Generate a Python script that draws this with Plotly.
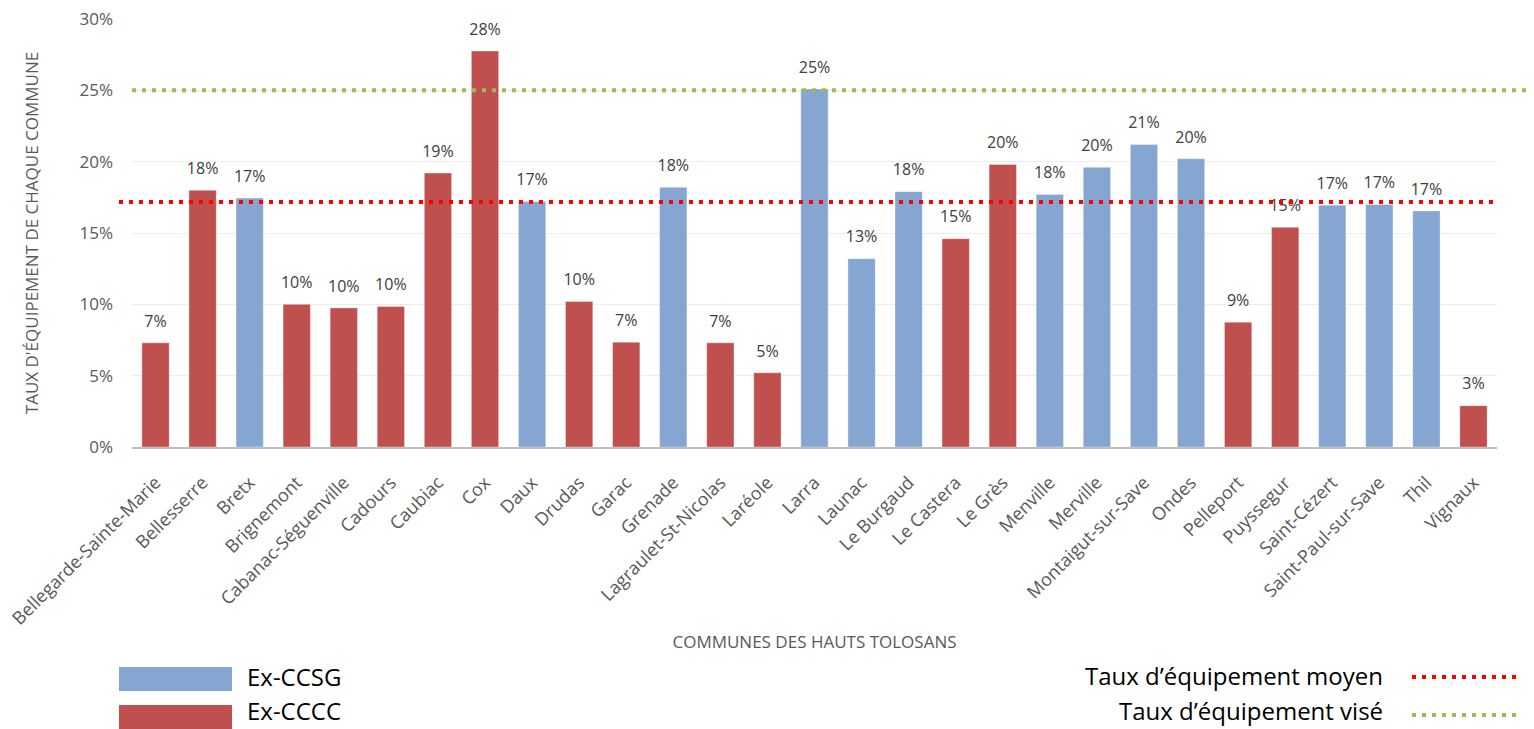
import plotly.graph_objects as go

# --------------------------------------------------------------------------
# Données
# --------------------------------------------------------------------------
communes = [
    "Bellegarde-Sainte-Marie", "Bellesserre", "Bretx", "Brignemont",
    "Cabanac-Séguenville", "Cadours", "Caubiac", "Cox", "Daux", "Drudas",
    "Garac", "Grenade", "Lagraulet-St-Nicolas", "Laréole", "Larra", "Launac",
    "Le Burgaud", "Le Castera", "Le Grès", "Menville", "Merville",
    "Montaigut-sur-Save", "Ondes", "Pelleport", "Puyssegur", "Saint-Cézert",
    "Saint-Paul-sur-Save", "Thil", "Vignaux",
]
taux = [
    0.073, 0.180, 0.1745, 0.100, 0.0975, 0.0985, 0.192, 0.2775, 0.172, 0.102,
    0.0735, 0.182, 0.073, 0.052, 0.251, 0.132, 0.179, 0.146, 0.198, 0.177,
    0.196, 0.212, 0.202, 0.0875, 0.154, 0.1695, 0.170, 0.1655, 0.029,
]
groupe = [
    "Ex-CCCC", "Ex-CCCC", "Ex-CCSG", "Ex-CCCC", "Ex-CCCC", "Ex-CCCC", "Ex-CCCC",
    "Ex-CCCC", "Ex-CCSG", "Ex-CCCC", "Ex-CCCC", "Ex-CCSG", "Ex-CCCC", "Ex-CCCC",
    "Ex-CCSG", "Ex-CCSG", "Ex-CCSG", "Ex-CCCC", "Ex-CCCC", "Ex-CCSG", "Ex-CCSG",
    "Ex-CCSG", "Ex-CCSG", "Ex-CCCC", "Ex-CCCC", "Ex-CCSG", "Ex-CCSG", "Ex-CCSG",
    "Ex-CCCC",
]
taux_moyen = 0.1717
taux_vise = 0.25

couleurs = {"Ex-CCSG": "#84A6D1", "Ex-CCCC": "#C0504D"}
ROUGE_LIGNE = "#FF0000"
VERT_LIGNE = "#9BBB59"

# géométrie de la page (pixels)
W, H = 1534, 729
L, R, T, B = 132, 37, 19, 282
PW, PH = W - L - R, H - T - B


def px_x(px):
    return (px - L) / PW


def px_y(py):
    return (H - B - py) / PH


fig = go.Figure()

fig.add_trace(go.Bar(
    x=communes, y=taux,
    marker=dict(color=[couleurs[g] for g in groupe],
                line=dict(color="rgba(255,255,255,0.35)", width=1)),
    width=0.58,
    hoverinfo="skip",
    showlegend=False,
))

# étiquettes au-dessus des barres
fig.add_trace(go.Scatter(
    x=communes, y=taux,
    mode="markers+text",
    marker=dict(size=18, color="rgba(0,0,0,0)"),
    text=[f"{v:.0%}" for v in taux],
    textposition="top center",
    textfont=dict(family="Open Sans", size=16, color="#404040"),
    hoverinfo="skip",
    showlegend=False,
))

# lignes de référence
fig.add_shape(type="line", xref="paper", yref="y",
              x0=px_x(119), x1=px_x(1497), y0=taux_moyen, y1=taux_moyen,
              line=dict(color=ROUGE_LIGNE, width=4, dash="4px,6px"))
fig.add_shape(type="line", xref="paper", yref="y",
              x0=px_x(132), x1=px_x(1526), y0=taux_vise, y1=taux_vise,
              line=dict(color=VERT_LIGNE, width=4, dash="4px,6px"))

# légende personnalisée
legende_font = dict(family="Open Sans", size=24, color="#000000")
for nom, y_top, y_txt in [("Ex-CCSG", 667, 676), ("Ex-CCCC", 705, 711)]:
    fig.add_shape(type="rect", xref="paper", yref="paper",
                  x0=px_x(119), x1=px_x(232), y0=px_y(y_top + 24), y1=px_y(y_top),
                  fillcolor=couleurs[nom], line=dict(width=0))
    fig.add_annotation(xref="paper", yref="paper", x=px_x(245), y=px_y(y_txt),
                       text=nom, showarrow=False, xanchor="left", yanchor="middle",
                       font=legende_font)

for texte, coul, yc, yl in [("Taux d’équipement moyen", ROUGE_LIGNE, 675, 677),
                            ("Taux d’équipement visé", VERT_LIGNE, 711, 715)]:
    fig.add_annotation(xref="paper", yref="paper", x=px_x(1385), y=px_y(yc),
                       text=texte, showarrow=False, xanchor="right", yanchor="middle",
                       font=legende_font)
    fig.add_shape(type="line", xref="paper", yref="paper",
                  x0=px_x(1412), x1=px_x(1522), y0=px_y(yl), y1=px_y(yl),
                  line=dict(color=coul, width=4, dash="4px,6px"))

fig.update_layout(
    width=W, height=H,
    margin=dict(l=L, r=R, t=T, b=B, autoexpand=False),
    plot_bgcolor="white", paper_bgcolor="white",
    font=dict(family="Open Sans", color="#595959"),
    xaxis=dict(
        range=[-0.5, len(communes) - 0.5],
        tickangle=-45,
        tickfont=dict(size=18, color="#595959"),
        showline=True, linecolor="#BFBFBF", linewidth=2,
        showgrid=False, ticks="",
        ticklabelstandoff=16,
        title=dict(text="COMMUNES DES HAUTS TOLOSANS",
                   font=dict(size=17, color="#595959"), standoff=8),
    ),
    yaxis=dict(
        range=[0, 0.30], dtick=0.05, tickformat=".0%",
        tickfont=dict(size=17, color="#595959"),
        gridcolor="#EDEDED", gridwidth=1,
        zeroline=False, showline=False,
        ticklabelstandoff=18,
        title=dict(text="TAUX D'ÉQUIPEMENT DE CHAQUE COMMUNE",
                   font=dict(size=17, color="#595959"), standoff=36),
    ),
)

fig.write_html("out.html", config={"displayModeBar": False},
               post_script="document.body.style.margin='0';")
